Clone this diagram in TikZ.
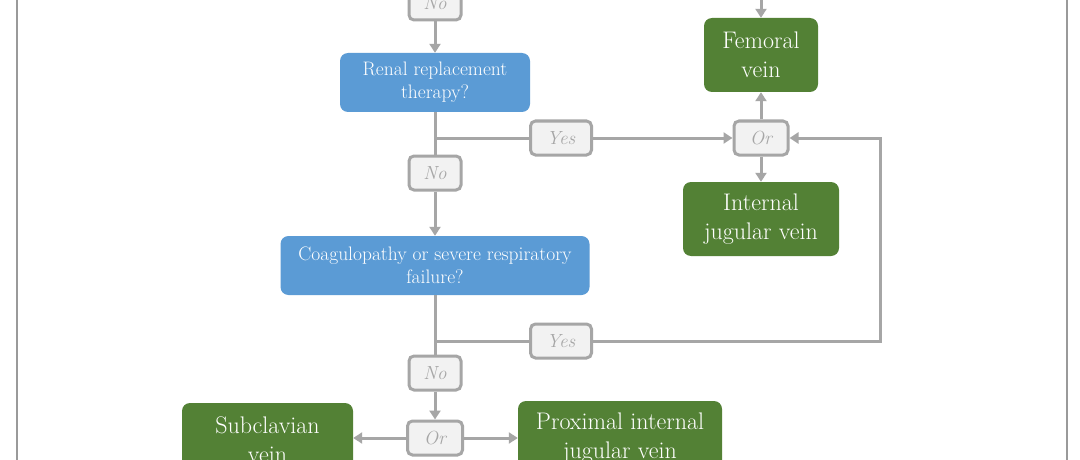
\documentclass[tikz,border=0pt]{standalone}
\usetikzlibrary{arrows.meta}
\definecolor{qblue}{HTML}{5B9BD5}
\definecolor{vgreen}{HTML}{538135}
\definecolor{lgray}{HTML}{A6A6A6}
\definecolor{lfill}{HTML}{F2F2F2}
\definecolor{framegray}{HTML}{9A9A9A}
\tikzset{
  question/.style={draw=none, fill=qblue, rounded corners=8pt, text=white, align=center,
    inner sep=0pt, font=\fontsize{19.5}{23}\selectfont},
  vein/.style={draw=none, fill=vgreen, rounded corners=8pt, text=white, align=center,
    inner sep=0pt, font=\fontsize{24}{29}\selectfont},
  tag/.style={draw=lgray, line width=3pt, fill=lfill, rounded corners=5pt, text=lgray,
    inner sep=0pt, minimum width=52pt, minimum height=34pt, font=\fontsize{19}{22}\selectfont\itshape},
  conn/.style={draw=lgray, line width=3pt},
  arr/.style={conn, -{Triangle[width=11pt,length=9pt]}},
}
\begin{document}
\begin{tikzpicture}[x=1pt,y=-1pt]
\useasboundingbox (0,0) rectangle (1080,460);
\fill[white] (0,0) rectangle (1080,460);
\draw[framegray, line width=1.2pt] (17,0) -- (17,460);
\draw[framegray, line width=1.2pt] (1067,0) -- (1067,460);

% main boxes
\node[question, minimum width=190pt, minimum height=59pt] (renal) at (435,82.5) {Renal replacement\\therapy?};
\node[question, minimum width=309pt, minimum height=59pt] (coag) at (435,265.5) {Coagulopathy or severe respiratory\\failure?};
\node[vein, minimum width=114pt, minimum height=74pt] (femoral) at (761,55) {Femoral\\vein};
\node[vein, minimum width=156pt, minimum height=74pt] (ijv) at (761,219) {Internal\\jugular vein};
\node[vein, minimum width=171pt, minimum height=74pt] (subcl) at (267.5,440) {Subclavian\\vein};
\node[vein, minimum width=204pt, minimum height=74pt] (prox) at (620,438) {Proximal internal\\jugular vein};

% label boxes
\node[tag] (no1) at (435,3) {No};
\node[tag, minimum width=61pt] (yes1) at (561,138) {Yes};
\node[tag, minimum width=54pt] (or1) at (761,138) {Or};
\node[tag] (no2) at (435,173) {No};
\node[tag, minimum width=61pt] (yes2) at (561,341) {Yes};
\node[tag] (no3) at (435,373) {No};
\node[tag, minimum width=55pt] (or3) at (435,438) {Or};

% coordinates
\coordinate (top) at (761,-12);
\coordinate (b1) at (435,138);
\coordinate (b2) at (435,341);
\coordinate (c2) at (880,341);

% connectors
\draw[arr] (top) -- (femoral);
\draw[arr] (no1) -- (renal);
\draw[conn] (renal) -- (no2);
\draw[arr] (no2) -- (coag);
\draw[arr] (b1) -- (yes1) -- (or1);
\draw[arr] (or1) -- (femoral);
\draw[arr] (or1) -- (ijv);
\draw[conn] (coag) -- (no3);
\draw[arr] (no3) -- (or3);
\draw[arr] (b2) -- (yes2) -- (c2) |- (or1);
\draw[arr] (or3) -- (subcl.east |- or3);
\draw[arr] (or3) -- (prox);
\end{tikzpicture}
\end{document}
